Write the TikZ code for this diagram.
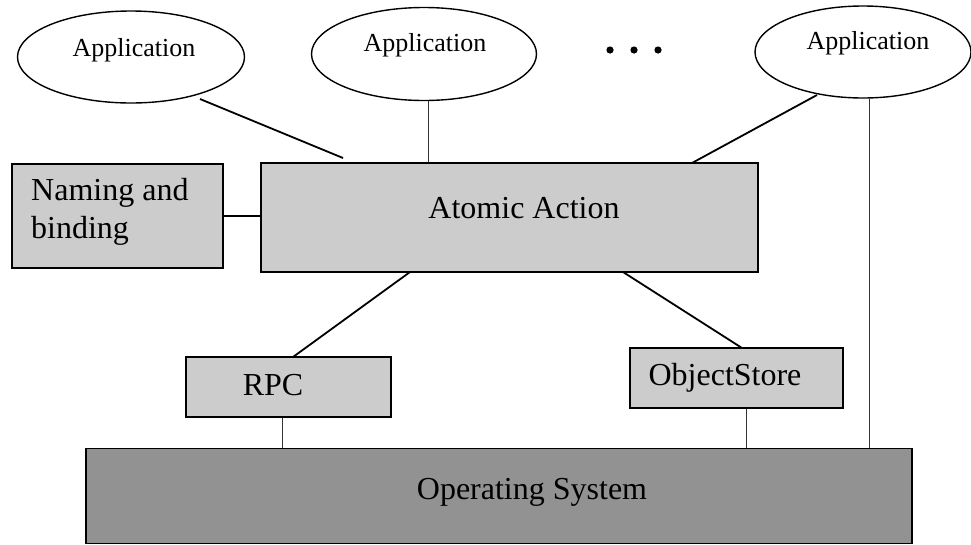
\documentclass[tikz,border=0pt]{standalone}
\usepackage{fontspec}
\setmainfont{Liberation Serif}
\usetikzlibrary{shapes.geometric}
\definecolor{boxgray}{HTML}{CCCCCC}
\definecolor{osgray}{HTML}{929292}
\begin{document}
\begin{tikzpicture}[x=1pt,y=-1pt,
  app/.style={draw,line width=1.4pt,ellipse,fill=white,inner sep=0pt},
  apptext/.style={font=\fontsize{26}{30}\selectfont},
  layer/.style={draw,line width=1.3pt,fill=boxgray,inner sep=0pt},
  lbl/.style={font=\fontsize{32}{38}\selectfont,inner sep=0pt},
  thickline/.style={line width=1.8pt},
  thinline/.style={line width=0.9pt,draw=black!80}]
\useasboundingbox (0,0) rectangle (971,544);
% ellipses
\node[app,minimum width=227pt,minimum height=92pt] (app1) at (131,57) {};
\node[app,minimum width=225pt,minimum height=93pt] (app2) at (424,54) {};
\node[app,minimum width=216pt,minimum height=92pt] (app3) at (863,52) {};
\node[apptext] (t1) at (134,50) {Application};
\node[apptext] (t2) at (425,45) {Application};
\node[apptext] (t3) at (868,43) {Application};
% dots
\foreach \x/\n in {610/d1,634/d2,658/d3}
  \fill (\x,50) circle (3.6pt) coordinate (\n);
% boxes
\node[layer,minimum width=497pt,minimum height=109pt] (atomic) at (509.5,217.5) {};
\node[lbl] (atomictext) at (524,208) {Atomic Action};
\node[layer,minimum width=211pt,minimum height=104pt] (naming) at (117.5,216) {};
\node[lbl,align=left,anchor=west] (namingtext) at (31,212) {Naming and\\binding};
\node[layer,minimum width=205pt,minimum height=60pt] (rpc) at (288.5,387) {};
\node[lbl] (rpctext) at (273,385) {RPC};
\node[layer,minimum width=213pt,minimum height=60pt] (ostore) at (736.5,378) {};
\node[lbl] (ostoretext) at (725,378) {ObjectStore};
\node[draw,line width=1.3pt,fill=osgray,inner sep=0pt,minimum width=826pt,minimum height=95pt] (os) at (499,496) {};
\node[lbl] (ostext) at (532,492) {Operating System};
% anchor coordinates
\coordinate (a1) at (200,99);
\coordinate (b1) at (343,158);
\coordinate (a3) at (817,95);
\coordinate (b3) at (692,163);
\coordinate (ar) at (410,272);
\coordinate (rt) at (293,357);
\coordinate (ao) at (623,272);
\coordinate (ot) at (742,348);
% connectors
\draw[thickline] (a1) -- (b1);
\draw[thinline] (app2.south -| 428,0) -- (atomic.north -| 428,0);
\draw[thickline] (a3) -- (b3);
\draw[thinline] (app3.south -| 869,0) -- (os.north -| 869,0);
\draw[thickline] (naming.east) -- (atomic.west |- naming.east);
\draw[thickline] (ar) -- (rt);
\draw[thickline] (ao) -- (ot);
\draw[thinline] (rpc.south -| 282,0) -- (os.north -| 282,0);
\draw[thinline] (ostore.south -| 746,0) -- (os.north -| 746,0);
\end{tikzpicture}
\end{document}
